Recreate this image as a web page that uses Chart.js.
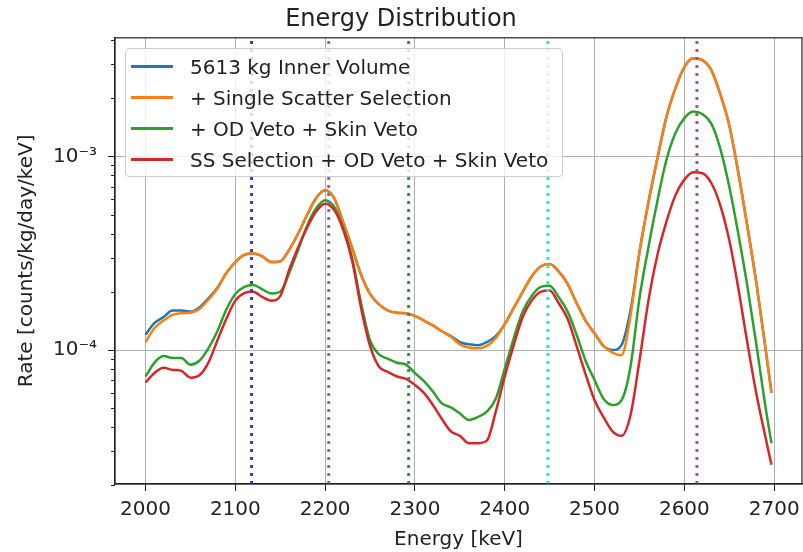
<!DOCTYPE html>
<html>
<head>
<meta charset="utf-8">
<script src="https://cdn.jsdelivr.net/npm/chart.js@4/dist/chart.umd.min.js"></script>
<style>
  body { margin: 0; background: #fff; }
  #wrap { position: relative; width: 803px; height: 552px; }
  #legend {
    position: absolute; left: 125px; top: 48px; width: 438px; height: 129px;
    box-sizing: border-box; padding-top: 2px;
    background: rgba(255,255,255,0.8); border: 1px solid #ccc; border-radius: 4px;
    font-family: "DejaVu Sans", sans-serif; font-size: 20px; color: #222;
  }
  .row { display: flex; align-items: center; height: 31px; }
  .sw { width: 42px; height: 3px; margin-left: 5px; margin-right: 17px; }
</style>
</head>
<body>
<div id="wrap">
  <canvas id="myChart" width="803" height="552"></canvas>
  <div id="legend"></div>
</div>
<script>
var energies = [2000, 2010, 2020, 2030, 2040, 2050, 2060, 2070, 2080, 2090,
  2100, 2110, 2120, 2130, 2140, 2150, 2160, 2170, 2180, 2190,
  2200, 2210, 2220, 2230, 2240, 2250, 2260, 2270, 2280, 2290,
  2300, 2310, 2320, 2330, 2340, 2350, 2360, 2370, 2380, 2390,
  2400, 2410, 2420, 2430, 2440, 2450, 2460, 2470, 2480, 2490,
  2500, 2510, 2520, 2530, 2540, 2550, 2560, 2570, 2580, 2590,
  2600, 2610, 2620, 2630, 2640, 2650, 2660, 2670, 2680, 2690, 2697];

var innerVolume = [1.20e-4, 1.38e-4, 1.48e-4, 1.60e-4, 1.60e-4, 1.58e-4, 1.66e-4, 1.85e-4, 2.10e-4, 2.50e-4,
  2.85e-4, 3.10e-4, 3.15e-4, 3.05e-4, 2.85e-4, 2.87e-4, 3.30e-4, 4.00e-4, 5.00e-4, 6.10e-4,
  6.70e-4, 6.10e-4, 4.60e-4, 3.38e-4, 2.45e-4, 1.95e-4, 1.72e-4, 1.60e-4, 1.56e-4, 1.55e-4,
  1.50e-4, 1.42e-4, 1.34e-4, 1.25e-4, 1.18e-4, 1.10e-4, 1.07e-4, 1.06e-4, 1.10e-4, 1.18e-4,
  1.36e-4, 1.65e-4, 2.00e-4, 2.40e-4, 2.70e-4, 2.78e-4, 2.55e-4, 2.20e-4, 1.75e-4, 1.42e-4,
  1.22e-4, 1.05e-4, 1.00e-4, 1.06e-4, 1.60e-4, 3.20e-4, 5.80e-4, 9.80e-4, 1.60e-3, 2.25e-3,
  2.90e-3, 3.22e-3, 3.15e-3, 2.80e-3, 2.10e-3, 1.45e-3, 8.30e-4, 4.40e-4, 2.25e-4, 1.05e-4, 6.0e-5];

var singleScatter = [1.10e-4, 1.30e-4, 1.42e-4, 1.52e-4, 1.55e-4, 1.56e-4, 1.63e-4, 1.82e-4, 2.08e-4, 2.50e-4,
  2.85e-4, 3.10e-4, 3.15e-4, 3.05e-4, 2.85e-4, 2.87e-4, 3.30e-4, 4.00e-4, 5.00e-4, 6.10e-4,
  6.70e-4, 6.10e-4, 4.60e-4, 3.38e-4, 2.45e-4, 1.95e-4, 1.72e-4, 1.60e-4, 1.56e-4, 1.55e-4,
  1.50e-4, 1.42e-4, 1.34e-4, 1.25e-4, 1.17e-4, 1.07e-4, 1.03e-4, 1.02e-4, 1.05e-4, 1.15e-4,
  1.36e-4, 1.65e-4, 2.00e-4, 2.40e-4, 2.70e-4, 2.78e-4, 2.55e-4, 2.20e-4, 1.75e-4, 1.42e-4,
  1.22e-4, 1.05e-4, 9.7e-5, 9.4e-5, 1.50e-4, 3.20e-4, 5.80e-4, 9.80e-4, 1.60e-3, 2.25e-3,
  2.90e-3, 3.22e-3, 3.15e-3, 2.80e-3, 2.10e-3, 1.45e-3, 8.30e-4, 4.40e-4, 2.25e-4, 1.05e-4, 6.0e-5];

var vetoes = [7.3e-5, 8.6e-5, 9.3e-5, 9.1e-5, 9.1e-5, 8.4e-5, 8.8e-5, 1.02e-4, 1.25e-4, 1.62e-4,
  1.95e-4, 2.12e-4, 2.17e-4, 2.06e-4, 1.96e-4, 2.00e-4, 2.50e-4, 3.30e-4, 4.40e-4, 5.40e-4,
  5.95e-4, 5.50e-4, 4.30e-4, 3.00e-4, 1.75e-4, 1.12e-4, 9.5e-5, 9.0e-5, 8.6e-5, 8.4e-5,
  7.6e-5, 6.9e-5, 6.1e-5, 5.3e-5, 5.05e-5, 4.7e-5, 4.35e-5, 4.5e-5, 4.8e-5, 5.6e-5,
  8.0e-5, 1.15e-4, 1.58e-4, 1.90e-4, 2.12e-4, 2.15e-4, 1.88e-4, 1.58e-4, 1.20e-4, 8.8e-5,
  7.0e-5, 5.6e-5, 5.2e-5, 5.5e-5, 8.2e-5, 1.85e-4, 3.40e-4, 5.90e-4, 9.60e-4, 1.32e-3,
  1.58e-3, 1.71e-3, 1.66e-3, 1.48e-3, 1.10e-3, 7.0e-4, 4.0e-4, 2.16e-4, 1.08e-4, 5.2e-5, 3.3e-5];

var ssVetoes = [6.8e-5, 7.6e-5, 8.1e-5, 7.9e-5, 7.8e-5, 7.2e-5, 7.4e-5, 8.6e-5, 1.12e-4, 1.45e-4,
  1.80e-4, 1.97e-4, 2.00e-4, 1.88e-4, 1.80e-4, 1.90e-4, 2.60e-4, 3.40e-4, 4.30e-4, 5.20e-4,
  5.70e-4, 5.30e-4, 4.20e-4, 2.90e-4, 1.65e-4, 1.05e-4, 8.2e-5, 7.7e-5, 7.3e-5, 7.1e-5,
  6.6e-5, 6.0e-5, 5.2e-5, 4.4e-5, 3.8e-5, 3.6e-5, 3.3e-5, 3.3e-5, 3.4e-5, 4.8e-5,
  7.3e-5, 1.06e-4, 1.48e-4, 1.80e-4, 2.00e-4, 2.03e-4, 1.75e-4, 1.45e-4, 1.05e-4, 7.5e-5,
  5.5e-5, 4.5e-5, 3.8e-5, 3.6e-5, 4.6e-5, 8.8e-5, 1.80e-4, 3.10e-4, 4.60e-4, 6.30e-4,
  7.60e-4, 8.30e-4, 8.20e-4, 7.30e-4, 5.60e-4, 3.70e-4, 2.10e-4, 1.10e-4, 6.0e-5, 3.6e-5, 2.55e-5];

var seriesNames = ['5613 kg Inner Volume', '+ Single Scatter Selection', '+ OD Veto + Skin Veto', 'SS Selection + OD Veto + Skin Veto'];
var seriesColors = ['#1f77b4', '#ff7f0e', '#2ca02c', '#d62728'];

// reference lines
var lineEnergies = [2118, 2204, 2293, 2448, 2614];
var lineColors = ['#3a3ad8', '#8a68a0', '#3f8a55', '#33dede', '#a8586a'];

var xTicks = [2000, 2100, 2200, 2300, 2400, 2500, 2600, 2700];
var yTicks = [1e-4, 1e-3];
var yTickLabels = ['10⁻⁴', '10⁻³'];
var yMinor = [2e-5, 3e-5, 4e-5, 5e-5, 6e-5, 7e-5, 8e-5, 9e-5, 2e-4, 3e-4, 4e-4, 5e-4, 6e-4, 7e-4, 8e-4, 9e-4, 2e-3, 3e-3, 4e-3];

var xMin = 1966, xMax = 2731;
var yMin = 2.03e-5, yMax = 4.11e-3;

var font = { family: 'DejaVu Sans', size: 20 };
var txt = '#222';

function pts(arr) {
  return arr.map(function (v, i) { return { x: energies[i], y: v }; });
}

var datasets = [innerVolume, singleScatter, vetoes, ssVetoes].map(function (arr, i) {
  return {
    label: seriesNames[i],
    data: pts(arr),
    borderColor: seriesColors[i],
    borderWidth: 2.5,
    pointRadius: 0,
    cubicInterpolationMode: 'monotone',
    order: 4 - i
  };
});

lineEnergies.forEach(function (e, i) {
  datasets.push({
    label: 'line' + e,
    data: [{ x: e, y: yMin }, { x: e, y: yMax }],
    borderColor: lineColors[i],
    borderWidth: 3,
    borderDash: [3, 5],
    pointRadius: 0,
    order: 0
  });
});

const frame = {
  id: 'frame',
  afterDraw(chart) {
    const c = chart.ctx, a = chart.chartArea, ys = chart.scales.y;
    c.save();
    c.strokeStyle = txt;
    c.lineWidth = 1.2;
    c.strokeRect(a.left, a.top, a.right - a.left, a.bottom - a.top);
    c.lineWidth = 1;
    yMinor.forEach(function (v) {
      const p = Math.round(ys.getPixelForValue(v)) + 0.5;
      c.beginPath();
      c.moveTo(a.left - 4, p);
      c.lineTo(a.left, p);
      c.stroke();
    });
    c.restore();
  }
};

var ctx = document.getElementById('myChart');

const chart = new Chart(ctx, {
  type: 'line',
  data: { datasets: datasets },
  plugins: [frame],
  options: {
    responsive: false,
    animation: false,
    devicePixelRatio: 1,
    layout: { padding: { left: 0, right: 1, top: 0, bottom: 0 } },
    plugins: {
      legend: { display: false },
      tooltip: { enabled: false },
      title: {
        display: true,
        text: 'Energy Distribution',
        color: txt,
        font: { family: 'DejaVu Sans', size: 24, weight: 'normal' },
        padding: { top: 5, bottom: 4 }
      }
    },
    scales: {
      x: {
        type: 'linear',
        min: xMin,
        max: xMax,
        afterBuildTicks: function (s) { s.ticks = xTicks.map(function (v) { return { value: v }; }); },
        afterFit: function (s) { s.height = 68; s.paddingLeft = 0; s.paddingRight = 0; },
        ticks: {
          color: txt, font: font, padding: 7, maxRotation: 0, autoSkip: false,
          callback: function (v) { return String(v); }
        },
        grid: { color: '#b0b0b0', lineWidth: 1, tickLength: 7, tickColor: txt },
        border: { color: txt, width: 1.2 },
        title: { display: true, text: 'Energy [keV]', color: txt, font: font, padding: { top: 0, bottom: 0 } }
      },
      y: {
        type: 'logarithmic',
        min: yMin,
        max: yMax,
        afterBuildTicks: function (s) { s.ticks = yTicks.map(function (v) { return { value: v }; }); },
        afterFit: function (s) { s.width = 115; s.paddingTop = 0; s.paddingBottom = 0; },
        ticks: {
          color: txt, font: font, padding: 11, autoSkip: false,
          callback: function (v) { var k = yTicks.indexOf(v); return k < 0 ? '' : yTickLabels[k]; }
        },
        grid: { color: '#b0b0b0', lineWidth: 1, tickLength: 7, tickColor: txt },
        border: { color: txt, width: 1.2 },
        title: { display: true, text: 'Rate [counts/kg/day/keV]', color: txt, font: font, padding: { top: 15, bottom: 0 } }
      }
    }
  }
});

// legend
var leg = document.getElementById('legend');
seriesNames.forEach(function (n, i) {
  var row = document.createElement('div');
  row.className = 'row';
  var sw = document.createElement('span');
  sw.className = 'sw';
  sw.style.background = seriesColors[i];
  var t = document.createElement('span');
  t.textContent = n;
  row.appendChild(sw);
  row.appendChild(t);
  leg.appendChild(row);
});
</script>
</body>
</html>
